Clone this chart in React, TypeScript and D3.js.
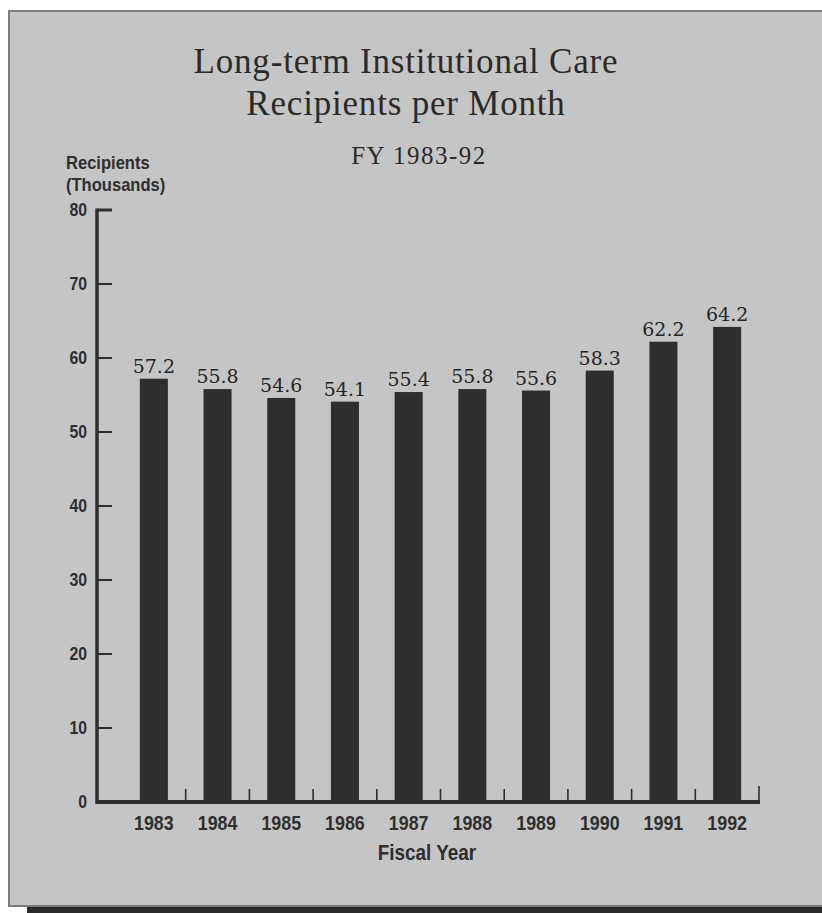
import React from "react";
import * as d3 from "d3";

// Fiscal years and monthly recipients (thousands)
const years = ["1983", "1984", "1985", "1986", "1987", "1988", "1989", "1990", "1991", "1992"];
const recipients = [57.2, 55.8, 54.6, 54.1, 55.4, 55.8, 55.6, 58.3, 62.2, 64.2];
const yTicks = [0, 10, 20, 30, 40, 50, 60, 70, 80];

const titleLines = ["Long-term Institutional Care", "Recipients per Month"];
const subtitle = "FY 1983-92";
const yAxisTitle = ["Recipients", "(Thousands)"];
const xAxisTitle = "Fiscal Year";

const W = 822;
const H = 913;
const INK = "#2e2e2e";
const TEXT = "#2f2f2f";
const PANEL = "#c5c5c5";
const SANS = "'Liberation Sans', Arial, sans-serif";
const SERIF = "'Liberation Serif', 'Times New Roman', serif";
const LABEL_SERIF = "'DejaVu Serif', serif";

// Condensed sans label: horizontal squeeze around its own anchor point
function Narrow(props: {
  x: number;
  y: number;
  size: number;
  sx: number;
  anchor?: "start" | "middle" | "end";
  dy?: string;
  children: React.ReactNode;
}) {
  const { x, y, size, sx, anchor = "start", dy, children } = props;
  return (
    <text
      transform={`translate(${x},${y}) scale(${sx},1)`}
      textAnchor={anchor}
      dy={dy}
      fontFamily={SANS}
      fontWeight={700}
      fontSize={size}
      fill={TEXT}
    >
      {children}
    </text>
  );
}

export default function App() {
  const axisX = 97;
  const y = d3.scaleLinear().domain([0, 80]).range([802, 210]);
  const x = d3
    .scaleBand<string>()
    .domain(years)
    .range([122, 759])
    .paddingInner(0.56)
    .paddingOuter(0.28);
  const step = x.step();
  const bw = x.bandwidth();
  const center = (yr: string) => (x(yr) as number) + bw / 2;

  return (
    <svg
      width={W}
      height={H}
      viewBox={`0 0 ${W} ${H}`}
      style={{ position: "absolute", left: 0, top: 0, background: "#fff" }}
    >
      {/* panel and its shadow */}
      <rect x={27} y={905} width={W - 27} height={8} fill="#2a2a2a" />
      <rect x={9} y={11} width={W} height={895} fill={PANEL} stroke="#7d7d7d" strokeWidth={2} />

      {/* titles */}
      <g fill="#2a2a2a" fontFamily={SERIF} textAnchor="middle">
        {titleLines.map((t, i) => (
          <text key={t} x={406} y={73 + i * 42} fontSize={35} letterSpacing={0.8}>
            {t}
          </text>
        ))}
        <text x={419} y={164} fontSize={25} letterSpacing={1.5}>
          {subtitle}
        </text>
      </g>

      {/* y-axis title */}
      {yAxisTitle.map((t, i) => (
        <Narrow key={t} x={66} y={169 + i * 22} size={18} sx={0.92}>
          {t}
        </Narrow>
      ))}

      {/* bars */}
      {years.map((yr, i) => (
        <rect
          key={yr}
          x={x(yr)}
          y={y(recipients[i])}
          width={bw}
          height={y(0) - y(recipients[i])}
          fill={INK}
        />
      ))}

      {/* value labels */}
      <g fill="#262626" fontFamily={LABEL_SERIF} fontSize={19} textAnchor="middle">
        {years.map((yr, i) => (
          <text key={yr} x={center(yr)} y={y(recipients[i]) - 6}>
            {recipients[i].toFixed(1)}
          </text>
        ))}
      </g>

      {/* y axis */}
      <line x1={axisX} x2={axisX} y1={y(80) - 1.5} y2={y(0) + 2} stroke={INK} strokeWidth={3.5} />
      {yTicks.map((t) => (
        <g key={t}>
          {t > 0 && (
            <line x1={axisX} x2={axisX + 15} y1={y(t)} y2={y(t)} stroke={INK} strokeWidth={t === 80 ? 3 : 2} />
          )}
          <Narrow x={87} y={y(t)} dy="0.36em" size={18} sx={0.88} anchor="end">
            {t}
          </Narrow>
        </g>
      ))}

      {/* x axis */}
      <line x1={axisX} x2={x.range()[1] + 1} y1={y(0)} y2={y(0)} stroke={INK} strokeWidth={4} />
      {years.map((yr, i) => (
        <line
          key={yr}
          x1={center(yr) + step / 2}
          x2={center(yr) + step / 2}
          y1={y(0)}
          y2={y(0) - (i === years.length - 1 ? 16 : 13)}
          stroke={INK}
          strokeWidth={1.6}
        />
      ))}
      {years.map((yr) => (
        <Narrow key={yr} x={center(yr)} y={830} size={21} sx={0.85} anchor="middle">
          {yr}
        </Narrow>
      ))}
      <Narrow x={427} y={860} size={22} sx={0.86} anchor="middle">
        {xAxisTitle}
      </Narrow>
    </svg>
  );
}
